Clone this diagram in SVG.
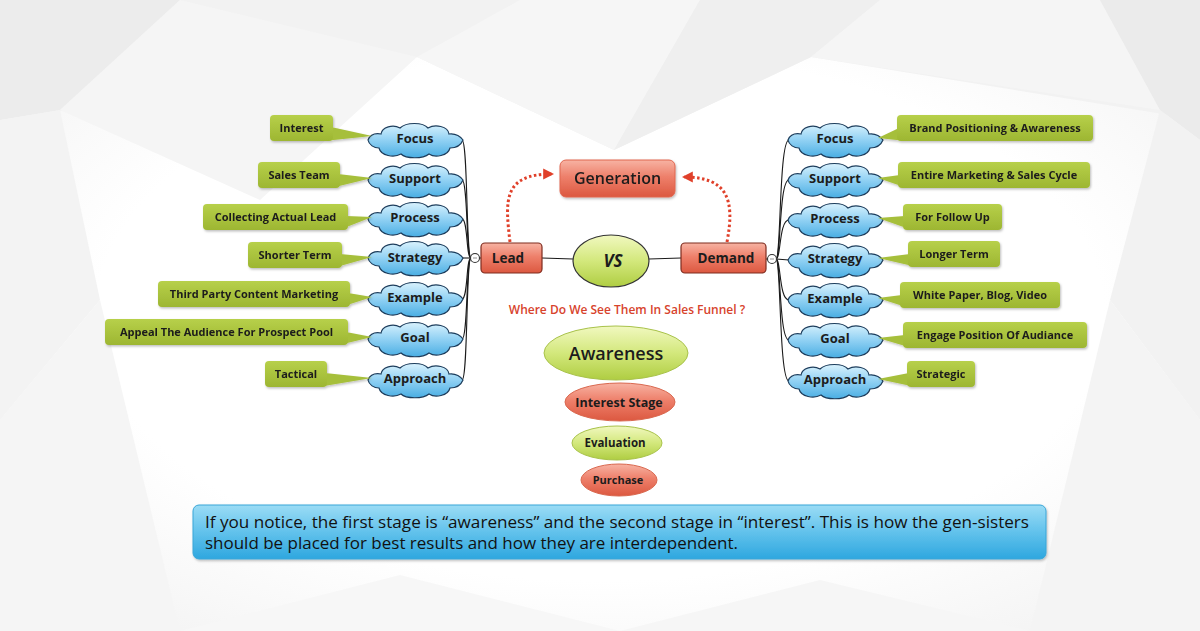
<svg xmlns="http://www.w3.org/2000/svg" width="1200" height="631" viewBox="0 0 1200 631">
<defs>
<linearGradient id="cloudG" x1="0" y1="0" x2="0" y2="1">
<stop offset="0" stop-color="#d9f2fd"/><stop offset="0.5" stop-color="#8fd0f3"/><stop offset="1" stop-color="#4aaee3"/>
</linearGradient>
<linearGradient id="greenBox" x1="0" y1="0" x2="0" y2="1">
<stop offset="0" stop-color="#b7d04a"/><stop offset="1" stop-color="#9db632"/>
</linearGradient>
<linearGradient id="redG" x1="0" y1="0" x2="0" y2="1">
<stop offset="0" stop-color="#f7b3a3"/><stop offset="0.45" stop-color="#ee806b"/><stop offset="1" stop-color="#dc5840"/>
</linearGradient>
<linearGradient id="greenE" x1="0" y1="0" x2="0" y2="1">
<stop offset="0" stop-color="#f1f8c0"/><stop offset="0.5" stop-color="#d3e87c"/><stop offset="1" stop-color="#afcd42"/>
</linearGradient>
<linearGradient id="blueBox" x1="0" y1="0" x2="0" y2="1">
<stop offset="0" stop-color="#9bdcf5"/><stop offset="0.5" stop-color="#62c2ec"/><stop offset="1" stop-color="#2ea7df"/>
</linearGradient>
<radialGradient id="bgG" cx="0.5" cy="0.5" r="0.7">
<stop offset="0.6" stop-color="#ffffff"/><stop offset="1" stop-color="#f0f0f0"/>
</radialGradient>
<filter id="sh" x="-10%" y="-20%" width="125%" height="150%">
<feDropShadow dx="1" dy="1.5" stdDeviation="1.2" flood-color="#000" flood-opacity="0.25"/>
</filter>
<path id="cloud" d="M-47,-1 C-45,-6 -40,-8 -34,-7 C-33,-14 -22,-17 -15,-13 C-9,-19 8,-19 13,-13 C20,-17 33,-15 34,-7 C41,-8 46,-4 48,-1 C46,4 41,7 35,7 C33,15 20,17 14,13 C8,18 -9,18 -14,13 C-21,17 -34,15 -36,7 C-41,7 -46,4 -47,-1 Z" fill="url(#cloudG)" stroke="#1d3d5c" stroke-width="1.2"/>
<marker id="arr" viewBox="0 0 10 10" refX="8" refY="5" markerWidth="11" markerHeight="13" markerUnits="userSpaceOnUse" orient="auto">
<path d="M0,0 L10,5 L0,10 Z" fill="#e0402a"/>
</marker>
<style>
text{font-family:"Open Sans","Noto Sans","Liberation Sans",sans-serif;fill:#1c1c1c}
.ct{font-size:13px;font-weight:700;text-anchor:middle}
.gt{font-size:11px;font-weight:700;text-anchor:middle}
.gb{fill:url(#greenBox)}
.gtail{fill:#a6bf3a}
.conn{fill:none;stroke:#1a1a1a;stroke-width:1.1}
.dot{fill:none;stroke:#e0402a;stroke-width:3;stroke-dasharray:2.5 2.5}
.rb{fill:url(#redG);stroke:#7e2c1f;stroke-width:1.2}
.ge{fill:url(#greenE);stroke:#a8c24a;stroke-width:1}
.re{fill:url(#redG);stroke:#d9684f;stroke-width:1}
.knob{fill:#fff;stroke:#333;stroke-width:1.1}
</style>
</defs>

<!-- background -->
<rect x="0" y="0" width="1200" height="631" fill="url(#bgG)"/>
<g id="bg-facets" stroke="none">
<polygon points="0,0 1200,0 1200,120 811,57 614,150 417,57 0,120" fill="#f2f2f2"/>
<polygon points="0,0 180,0 60,110 0,120" fill="#ececec"/>
<polygon points="180,0 417,57 260,200 60,110" fill="#f5f5f5"/>
<polygon points="417,57 520,0 700,0 614,150" fill="#f6f6f6"/>
<polygon points="700,0 880,0 811,57 614,150" fill="#efefef"/>
<polygon points="880,0 1100,0 1160,110 811,57" fill="#f5f5f5"/>
<polygon points="1100,0 1200,0 1200,140 1160,110" fill="#ebebeb"/>
<polygon points="0,120 60,110 100,300 0,420" fill="#f3f3f3"/>
<polygon points="1200,140 1160,110 1110,300 1200,420" fill="#f2f2f2"/>
<polygon points="0,420 100,300 180,631 0,631" fill="#f5f5f5"/>
<polygon points="1200,420 1110,300 1030,631 1200,631" fill="#f4f4f4"/>
<polygon points="180,631 400,575 620,631" fill="#f7f7f7"/>
<polygon points="620,631 820,580 1030,631" fill="#f6f6f6"/>
</g>

<!-- connectors -->
<g id="connectors">
<path class="conn" d="M471,258 C466,258 468,140 462,140"/>
<path class="conn" d="M471,258 C466,258 468,180 462,180"/>
<path class="conn" d="M471,258 C466,258 468,219 462,219"/>
<path class="conn" d="M471,258 L462,258"/>
<path class="conn" d="M471,258 C466,258 468,299 462,299"/>
<path class="conn" d="M471,258 C466,258 468,339 462,339"/>
<path class="conn" d="M471,258 C466,258 468,380 462,380"/>
<path class="conn" d="M776,259 C781,259 779,140 789,140"/>
<path class="conn" d="M776,259 C781,259 779,180 789,180"/>
<path class="conn" d="M776,259 C781,259 779,220 789,220"/>
<path class="conn" d="M776,259 L789,260"/>
<path class="conn" d="M776,259 C781,259 779,300 789,300"/>
<path class="conn" d="M776,259 C781,259 779,340 789,340"/>
<path class="conn" d="M776,259 C781,259 779,381 789,381"/>
<path class="conn" d="M479.5,258 L481,258"/>
<path class="conn" d="M542,258 L573,259"/>
<path class="conn" d="M649,259 L681,258"/>
<path class="conn" d="M766,259 L767.5,259"/>
<path class="dot" d="M510,242 C505,200 503,174 552,174" marker-end="url(#arr)"/>
<path class="dot" d="M727,242 C735,200 728,177 684,177" marker-end="url(#arr)"/>
</g>

<!-- left clouds -->
<g id="lead-focus"><use href="#cloud" x="415" y="141"/><text class="ct" x="415" y="142.5">Focus</text></g>
<g id="lead-support"><use href="#cloud" x="415" y="181"/><text class="ct" x="415" y="182.5">Support</text></g>
<g id="lead-process"><use href="#cloud" x="415" y="220"/><text class="ct" x="415" y="221.5">Process</text></g>
<g id="lead-strategy"><use href="#cloud" x="415" y="259"/><text class="ct" x="415" y="261.5">Strategy</text></g>
<g id="lead-example"><use href="#cloud" x="415" y="300"/><text class="ct" x="415" y="301.5">Example</text></g>
<g id="lead-goal"><use href="#cloud" x="415" y="340"/><text class="ct" x="415" y="341.5">Goal</text></g>
<g id="lead-approach"><use href="#cloud" x="415" y="381"/><text class="ct" x="415" y="382.5">Approach</text></g>

<!-- right clouds -->
<g id="demand-focus"><use href="#cloud" x="835" y="141"/><text class="ct" x="835" y="142.5">Focus</text></g>
<g id="demand-support"><use href="#cloud" x="835" y="181"/><text class="ct" x="835" y="182.5">Support</text></g>
<g id="demand-process"><use href="#cloud" x="835" y="221"/><text class="ct" x="835" y="222.5">Process</text></g>
<g id="demand-strategy"><use href="#cloud" x="835" y="261"/><text class="ct" x="835" y="263">Strategy</text></g>
<g id="demand-example"><use href="#cloud" x="835" y="301"/><text class="ct" x="835" y="302.5">Example</text></g>
<g id="demand-goal"><use href="#cloud" x="835" y="341"/><text class="ct" x="835" y="342.5">Goal</text></g>
<g id="demand-approach"><use href="#cloud" x="835" y="382"/><text class="ct" x="835" y="383.5">Approach</text></g>

<!-- left callouts -->
<g id="c-interest" filter="url(#sh)"><polygon class="gtail" points="331,127 372,136 324,141"/><rect class="gb" x="270" y="115" width="63" height="26" rx="4"/><text class="gt" x="301.5" y="132">Interest</text></g>
<g id="c-salesteam" filter="url(#sh)"><polygon class="gtail" points="338,174 372,178 331,188"/><rect class="gb" x="258" y="162" width="82" height="26" rx="4"/><text class="gt" x="299" y="179">Sales Team</text></g>
<g id="c-collecting" filter="url(#sh)"><polygon class="gtail" points="346,216 372,217 339,230"/><rect class="gb" x="203" y="204" width="145" height="26" rx="4"/><text class="gt" x="275.5" y="221">Collecting Actual Lead</text></g>
<g id="c-shorter" filter="url(#sh)"><polygon class="gtail" points="340,254 372,257 333,268"/><rect class="gb" x="248" y="242" width="94" height="26" rx="4"/><text class="gt" x="295" y="259">Shorter Term</text></g>
<g id="c-thirdparty" filter="url(#sh)"><polygon class="gtail" points="348,293 372,297 341,307"/><rect class="gb" x="158" y="281" width="192" height="26" rx="4"/><text class="gt" x="254" y="298">Third Party Content Marketing</text></g>
<g id="c-appeal" filter="url(#sh)"><polygon class="gtail" points="346,332 372,337 339,345"/><rect class="gb" x="105" y="319" width="243" height="26" rx="4"/><text class="gt" x="226.5" y="336">Appeal The Audience For Prospect Pool</text></g>
<g id="c-tactical" filter="url(#sh)"><polygon class="gtail" points="325,373 372,378 318,387"/><rect class="gb" x="265" y="361" width="62" height="26" rx="4"/><text class="gt" x="296" y="378">Tactical</text></g>

<!-- right callouts -->
<g id="c-brand" filter="url(#sh)"><polygon class="gtail" points="899,128 878,138 906,141"/><rect class="gb" x="897" y="115" width="196" height="26" rx="4"/><text class="gt" x="995" y="132">Brand Positioning &amp; Awareness</text></g>
<g id="c-entire" filter="url(#sh)"><polygon class="gtail" points="900,175 878,178 907,188"/><rect class="gb" x="898" y="162" width="192" height="26" rx="4"/><text class="gt" x="994" y="179">Entire Marketing &amp; Sales Cycle</text></g>
<g id="c-followup" filter="url(#sh)"><polygon class="gtail" points="905,216 878,218 912,230"/><rect class="gb" x="903" y="204" width="99" height="26" rx="4"/><text class="gt" x="952.5" y="221">For Follow Up</text></g>
<g id="c-longer" filter="url(#sh)"><polygon class="gtail" points="910,254 878,258 917,267"/><rect class="gb" x="908" y="241" width="92" height="26" rx="4"/><text class="gt" x="954" y="258">Longer Term</text></g>
<g id="c-whitepaper" filter="url(#sh)"><polygon class="gtail" points="902,295 878,298 909,308"/><rect class="gb" x="900" y="282" width="160" height="26" rx="4"/><text class="gt" x="980" y="299">White Paper, Blog, Video</text></g>
<g id="c-engage" filter="url(#sh)"><polygon class="gtail" points="905,335 878,338 912,348"/><rect class="gb" x="903" y="322" width="184" height="26" rx="4"/><text class="gt" x="995" y="339">Engage Position Of Audiance</text></g>
<g id="c-strategic" filter="url(#sh)"><polygon class="gtail" points="909,373 878,379 916,387"/><rect class="gb" x="907" y="361" width="68" height="26" rx="4"/><text class="gt" x="941" y="378">Strategic</text></g>

<!-- center -->
<g id="generation" filter="url(#sh)"><rect x="560" y="160" width="115" height="37" rx="6" fill="url(#redG)" stroke="#e0664f" stroke-width="1"/><text x="617.5" y="184" style="font-size:16px;font-weight:600;text-anchor:middle">Generation</text></g>
<g id="lead"><circle class="knob" cx="475" cy="258" r="4.5"/><line x1="473" y1="258" x2="477" y2="258" stroke="#777" stroke-width="0.8"/><rect class="rb" x="481" y="243" width="61" height="30" rx="4"/><text x="508" y="262.5" style="font-size:13.5px;font-weight:700;text-anchor:middle">Lead</text></g>
<g id="vs"><ellipse cx="611" cy="261" rx="38" ry="26" fill="url(#greenE)" stroke="#333" stroke-width="1.2"/><text x="613" y="267" style="font-size:17px;font-weight:700;font-style:italic;text-anchor:middle">VS</text></g>
<g id="demand"><rect class="rb" x="681" y="243" width="85" height="30" rx="4"/><circle class="knob" cx="772" cy="259" r="4.5"/><line x1="770" y1="259" x2="774" y2="259" stroke="#777" stroke-width="0.8"/><text x="726" y="262.5" style="font-size:13.5px;font-weight:700;text-anchor:middle">Demand</text></g>
<g id="funnel-title"><text x="627" y="314" style="font-size:12px;font-weight:600;fill:#d7432c;text-anchor:middle">Where Do We See Them In Sales Funnel ?</text></g>

<!-- funnel -->
<g id="awareness"><ellipse class="ge" cx="616" cy="353" rx="72" ry="27"/><text x="616" y="360" style="font-size:18px;font-weight:600;text-anchor:middle">Awareness</text></g>
<g id="interest-stage"><ellipse class="re" cx="620" cy="402" rx="55" ry="19"/><text x="619" y="406.5" style="font-size:12.5px;font-weight:700;text-anchor:middle">Interest Stage</text></g>
<g id="evaluation"><ellipse class="ge" cx="617" cy="443" rx="45" ry="17"/><text x="615" y="447" style="font-size:11.5px;font-weight:700;text-anchor:middle">Evaluation</text></g>
<g id="purchase"><ellipse class="re" cx="619" cy="480" rx="38" ry="16"/><text x="618" y="484" style="font-size:11px;font-weight:700;text-anchor:middle">Purchase</text></g>

<!-- note -->
<g id="note">
<rect x="193" y="505" width="853" height="54" rx="6" fill="url(#blueBox)" stroke="#3aa6d8" stroke-width="1" filter="url(#sh)"/>
<text x="205" y="528" textLength="824" lengthAdjust="spacingAndGlyphs" style="font-size:16.5px;fill:#111">If you notice, the first stage is “awareness” and the second stage in “interest”. This is how the gen-sisters</text>
<text x="205" y="549" textLength="533" lengthAdjust="spacingAndGlyphs" style="font-size:16.5px;fill:#111">should be placed for best results and how they are interdependent.</text>
</g>
</svg>
